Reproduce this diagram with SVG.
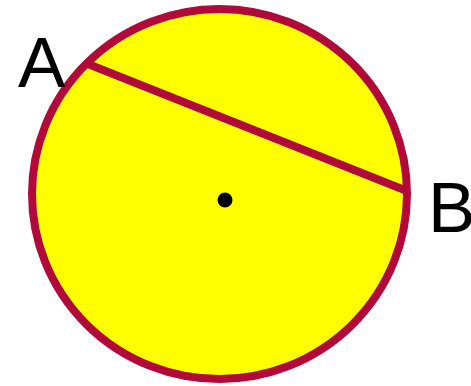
<svg xmlns="http://www.w3.org/2000/svg" width="471" height="386" viewBox="0 0 471 386">
<style>
.lbl{font-family:"Liberation Sans",Arial,sans-serif;font-size:71px;fill:#000}
.edge{stroke:#b0093a;stroke-width:8;fill:none}
</style>
<rect width="471" height="386" fill="#fff"/>
<g id="circle">
<ellipse cx="219.5" cy="194" rx="187.5" ry="185" fill="#ffff00" stroke="#b0093a" stroke-width="8"/>
</g>
<g id="connectors">
<line class="edge" x1="88" y1="64" x2="407" y2="191" stroke-width="7"/>
</g>
<g id="center">
<circle cx="225" cy="200" r="7.5" fill="#000"/>
</g>
<g id="A"><text class="lbl" x="18" y="87">A</text></g>
<g id="B"><text class="lbl" x="428" y="232">B</text></g>
</svg>
